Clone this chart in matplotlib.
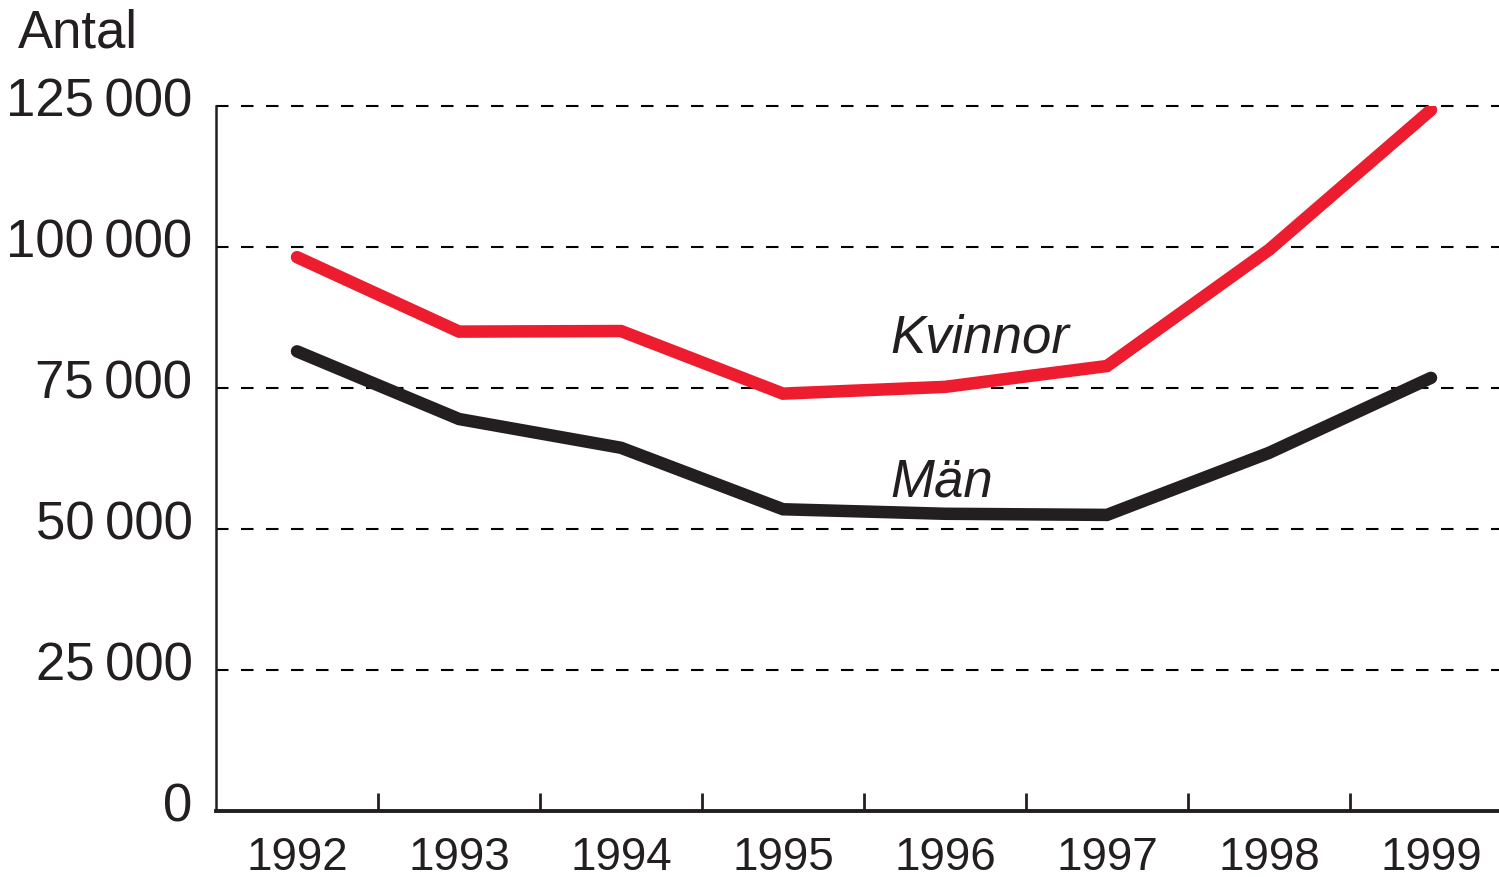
import matplotlib
matplotlib.use("Agg")
import matplotlib.pyplot as plt
import matplotlib.transforms as mtransforms
from matplotlib.ticker import FuncFormatter

# data
years = ["1992", "1993", "1994", "1995", "1996", "1997", "1998", "1999"]
kvinnor = [98200, 85000, 85100, 74000, 75200, 78900, 99500, 124300]
man = [81500, 69500, 64400, 53500, 52700, 52500, 63500, 76800]
yticks = [0, 25000, 50000, 75000, 100000, 125000]

plt.rcParams['font.family'] = ['Liberation Sans', 'DejaVu Sans']

fig = plt.figure(figsize=(14.99, 8.78), dpi=100)
# axes: left 216px, bottom 812px, top (125000) at 107px, category width 162px
W, H = 1499, 878
ax = fig.add_axes((216 / W, (H - 812) / H, 162 * 8 / W, (812 - 107) / H))

x = list(range(len(years)))
ax.plot(x, kvinnor, color='#ED1C2E', lw=9, solid_capstyle='round', solid_joinstyle='miter', zorder=3)
ax.plot(x, man, color='#231F20', lw=9, solid_capstyle='round', solid_joinstyle='miter', zorder=3)

ax.set_xlim(-0.5, 7.5)
ax.set_ylim(0, 125000)

for v in yticks[1:]:
    ax.axhline(v, color='black', lw=1.5, ls=(0, (6, 6)), zorder=1, clip_on=False)

ax.set_yticks(yticks)
ax.yaxis.set_major_formatter(FuncFormatter(lambda v, p: f"{int(v):,}".replace(",", "\u2009")))
ax.tick_params(axis='y', length=0, pad=17, labelsize=38, colors='#231F20')
shift = mtransforms.ScaledTranslation(0, 10 / 100, fig.dpi_scale_trans)
for lab in ax.get_yticklabels():
    lab.set_transform(lab.get_transform() + shift)

ax.set_xticks(x)
ax.set_xticklabels(years)
ax.set_xticks([i + 0.5 for i in range(len(years))], minor=True)
ax.tick_params(axis='x', which='major', length=0, pad=17, labelsize=33, colors='#231F20')
ax.tick_params(axis='x', which='minor', direction='in', length=13, width=2, color='#231F20')

for s in ['top', 'right']:
    ax.spines[s].set_visible(False)
ax.spines['left'].set_linewidth(1.8)
ax.spines['bottom'].set_linewidth(2.8)
ax.spines['left'].set_color('#231F20')
ax.spines['bottom'].set_color('#231F20')

ax.text(3.66, 84000, "Kvinnor", style='italic', fontsize=38, color='#231F20', va='center')
ax.text(3.66, 58500, "Män", style='italic', fontsize=38, color='#231F20', va='center')

fig.text(18 / W, 1 - 34 / H, "Antal", fontsize=38, color='#231F20', va='center', ha='left')

fig.savefig("out.png", dpi=100)
